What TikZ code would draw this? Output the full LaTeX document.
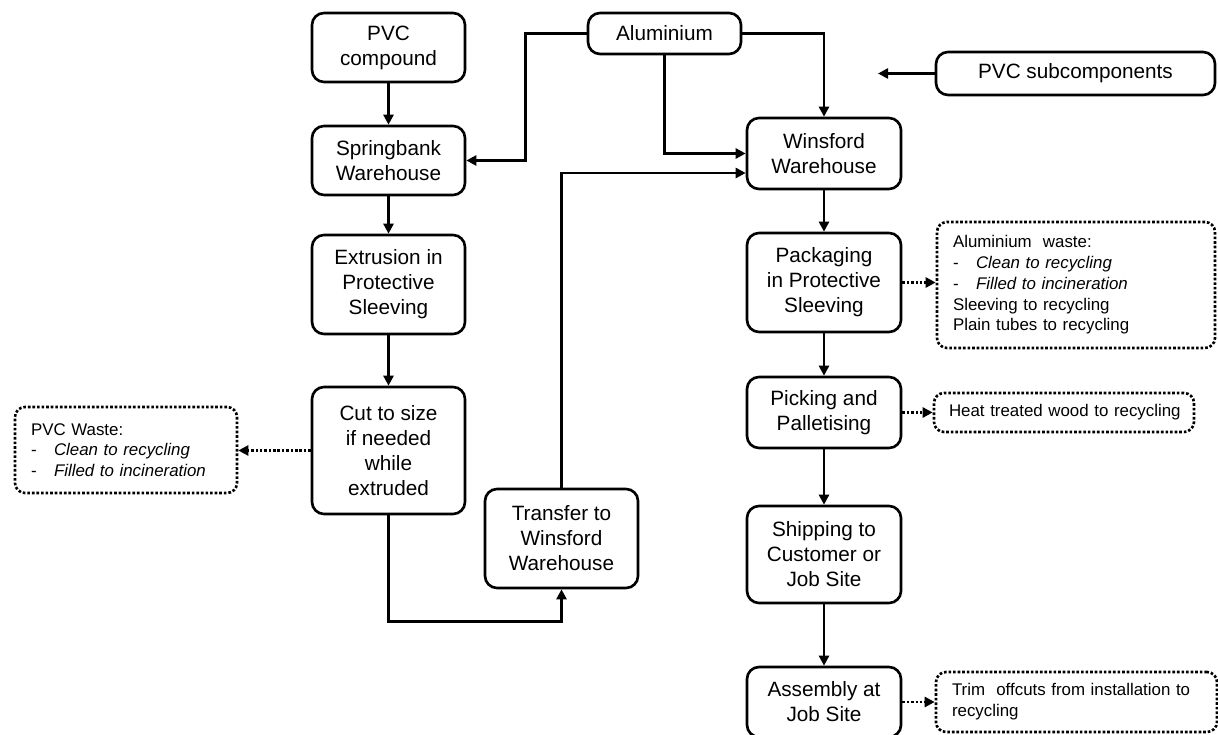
\documentclass[tikz,border=0pt]{standalone}
\usepackage{fontspec}
\setmainfont{Liberation Sans}
\usetikzlibrary{arrows.meta}

\begin{document}
\begin{tikzpicture}[
  stepbox/.style={draw, line width=1.5pt, rounded corners=0.24cm, align=center,
    inner sep=0pt, minimum width=3.06cm, font=\fontsize{11.8}{14.2}\selectfont},
  wastebox/.style={draw, line width=1.5pt, dash pattern=on 1.5pt off 1.1pt, rounded corners=0.2cm,
    align=left, inner xsep=0.32cm, inner ysep=0pt, font=\fontsize{9.6}{11.8}\selectfont},
  flow/.style={line width=1.4pt, -{Triangle[length=0.2cm,width=0.2cm]}},
  waste/.style={flow, dash pattern=on 1.4pt off 1.1pt}
]
\useasboundingbox (0,0) rectangle (24.36,-14.7);

% left column
\node[stepbox, minimum height=1.38cm] (pvc) at (7.77,-0.95) {PVC\\compound};
\node[stepbox, minimum height=1.38cm] (spring) at (7.77,-3.21) {Springbank\\Warehouse};
\node[stepbox, minimum height=1.98cm] (extr) at (7.77,-5.69) {Extrusion in\\Protective\\Sleeving};
\node[stepbox, minimum height=2.54cm] (cut) at (7.77,-9.01) {Cut to size\\if needed\\while\\extruded};
\node[stepbox, minimum height=1.98cm] (transfer) at (11.23,-10.77) {Transfer to\\Winsford\\Warehouse};
\node[stepbox, minimum height=0.82cm] (alu) at (13.29,-0.67) {Aluminium};

% right column
\node[stepbox, minimum width=3.08cm, minimum height=1.42cm] (winsford) at (16.48,-3.07) {Winsford\\Warehouse};
\node[stepbox, minimum width=3.08cm, minimum height=1.98cm] (pack) at (16.48,-5.65) {Packaging\\in Protective\\Sleeving};
\node[stepbox, minimum width=3.08cm, minimum height=1.42cm] (pick) at (16.48,-8.25) {Picking and\\Palletising};
\node[stepbox, minimum width=3.08cm, minimum height=1.94cm] (ship) at (16.48,-11.09) {Shipping to\\Customer or\\Job Site};
\node[stepbox, minimum width=3.08cm, minimum height=1.40cm] (assembly) at (16.48,-14.04) {Assembly at\\Job Site};
\node[stepbox, minimum width=5.58cm, minimum height=0.86cm] (sub) at (21.51,-1.47) {PVC subcomponents};
\coordinate (subend) at (17.56,-1.47);

% waste boxes
\node[wastebox, text width=3.8cm, minimum height=1.72cm] (pvcwaste) at (2.52,-9.0)
  {PVC Waste:\\\makebox[0.46cm][l]{-}\textit{Clean to recycling}\\\makebox[0.46cm][l]{-}\textit{Filled to incineration}};
\node[wastebox, text width=4.92cm, minimum height=2.52cm] (aluwaste) at (21.52,-5.7)
  {Aluminium\ \ waste:\\\makebox[0.46cm][l]{-}\textit{Clean to recycling}\\\makebox[0.46cm][l]{-}\textit{Filled to incineration}\\Sleeving to recycling\\Plain tubes to recycling};
\node[wastebox, inner xsep=0.3cm, text width=4.6cm, minimum height=0.78cm] (heat) at (21.28,-8.25)
  {\mbox{Heat treated wood to recycling}};
\node[wastebox, text width=4.98cm, minimum height=1.2cm] (trim) at (21.53,-14.04)
  {Trim\ \ offcuts from installation to\\recycling};

% flow
\draw[flow] (pvc) -- (spring);
\draw[flow] (spring) -- (extr);
\draw[flow] (extr) -- (cut);
\draw[flow] (alu.west) -- ++(-1.22,0) |- (spring.east);
\draw[flow] (alu.south) |- (winsford.west);
\draw[flow] (alu.east) -| (winsford.north);
\draw[flow] (cut.south) -- ++(0,-2.12) -| (transfer.south);
\draw[flow] (transfer.north) |- ([yshift=-0.39cm]winsford.west);
\draw[flow] (winsford) -- (pack);
\draw[flow] (pack) -- (pick);
\draw[flow] (pick) -- (ship);
\draw[flow] (ship) -- (assembly);
\draw[flow] (sub) -- (subend);

% waste
\draw[waste] (cut.west) -- (cut.west -| pvcwaste.east);
\draw[waste] (pack.east) -- (pack.east -| aluwaste.west);
\draw[waste] (pick.east) -- (pick.east -| heat.west);
\draw[waste] (assembly.east) -- (assembly.east -| trim.west);

\end{tikzpicture}
\end{document}
